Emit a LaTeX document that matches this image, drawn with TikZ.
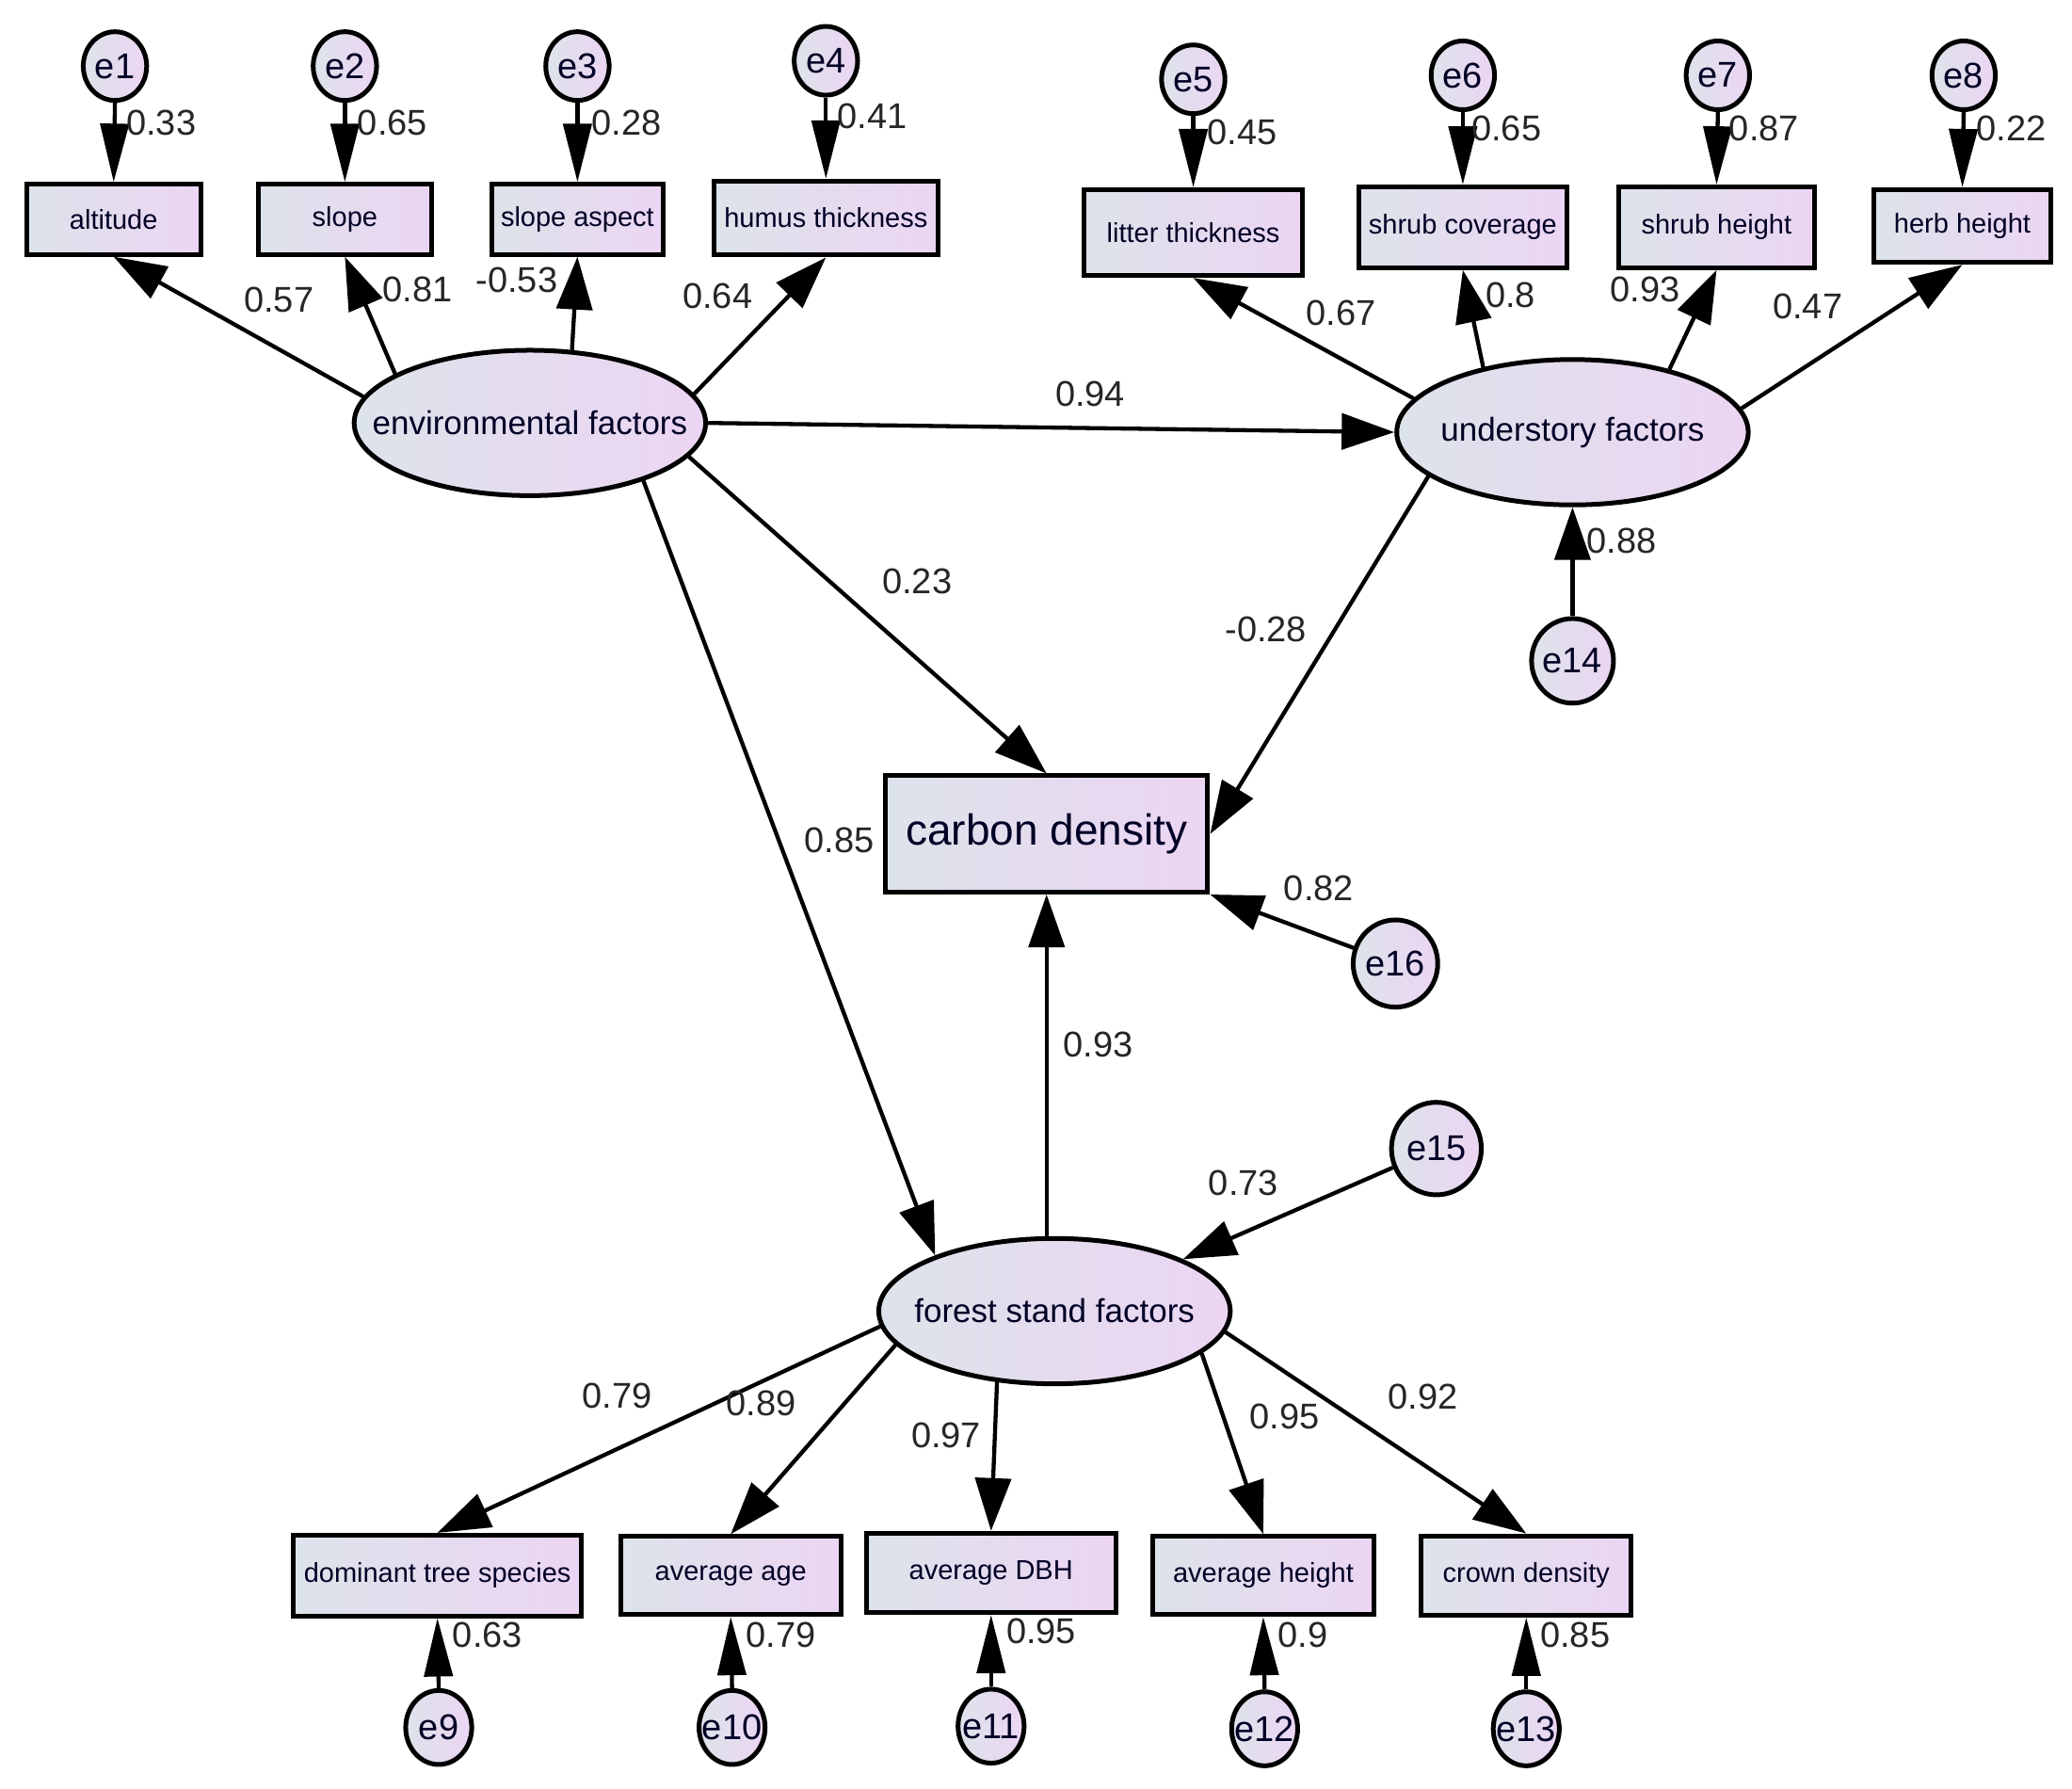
\documentclass[tikz,border=0pt]{standalone}
\usepackage{fontspec}
\setmainfont{Liberation Sans}
\usetikzlibrary{arrows.meta,shapes.geometric}
\definecolor{gl}{HTML}{DDE3EA}
\definecolor{gr}{HTML}{ECD5F3}
\def\pxs{1.4037pt}
\newcommand\zwbox[1]{\hbox to 0pt{\hss#1\hss}}
\tikzset{
 box/.style={draw=black, line width=5pt, left color=gl, right color=gr, inner sep=0pt,
   font=\fontsize{29}{31}\selectfont, text=black!85!blue},
 lat/.style={ellipse, draw=black, line width=5pt, left color=gl, right color=gr, inner sep=0pt,
   minimum width=266*\pxs, minimum height=110*\pxs, font=\fontsize{35}{37}\selectfont, text=black!85!blue},
 err/.style={ellipse, draw=black, line width=5pt, left color=gl, right color=gr, inner sep=0pt,
   font=\fontsize{38}{40}\selectfont, text=black!85!blue},
 topE/.style={err, minimum width=48*\pxs, minimum height=52*\pxs},
 botE/.style={err, minimum width=50*\pxs, minimum height=56*\pxs},
 arr/.style={line width=4.3pt, -{Triangle[length=56pt,width=38pt]}},
 earr/.style={line width=4.3pt, -{Triangle[length=62pt,width=30pt]}},
 lab/.style={font=\fontsize{38}{40}\selectfont, inner sep=0pt, text=black!85}
}
\begin{document}
\begin{tikzpicture}[x=1.4037pt, y=-1.4037pt]
\fill[white] (0,0) rectangle (1568,1353);
\useasboundingbox (0,0) rectangle (1568,1353);

% latent variables
\node[lat] (env) at (401,320) {\zwbox{environmental factors}};
\node[lat] (und) at (1190,327) {\zwbox{understory factors}};
\node[lat] (fst) at (798,992) {\zwbox{forest stand factors}};

% observed boxes top
\node[box, minimum width=132*\pxs, minimum height=53*\pxs] (alt) at (86,166) {altitude};
\node[box, minimum width=131*\pxs, minimum height=53*\pxs] (slp) at (261,166) {slope};
\node[box, minimum width=130*\pxs, minimum height=53*\pxs] (asp) at (437,166) {slope aspect};
\node[box, minimum width=170*\pxs, minimum height=56*\pxs] (hum) at (625,165) {humus thickness};
\node[box, minimum width=165*\pxs, minimum height=65*\pxs] (lit) at (903,176) {litter thickness};
\node[box, minimum width=157*\pxs, minimum height=61*\pxs] (shc) at (1107,172) {shrub coverage};
\node[box, minimum width=148*\pxs, minimum height=61*\pxs] (shh) at (1299,172) {shrub height};
\node[box, minimum width=134*\pxs, minimum height=55*\pxs] (hbh) at (1485,171) {herb height};

% carbon density
\node[box, minimum width=244*\pxs, minimum height=88*\pxs, font=\fontsize{46}{48}\selectfont] (cd) at (792,631) {carbon density};

% bottom boxes
\node[box, minimum width=218*\pxs, minimum height=61*\pxs] (dom) at (331,1192) {dominant tree species};
\node[box, minimum width=167*\pxs, minimum height=59*\pxs] (age) at (553,1192) {average age};
\node[box, minimum width=189*\pxs, minimum height=60*\pxs] (dbh) at (750,1190) {average DBH};
\node[box, minimum width=168*\pxs, minimum height=59*\pxs] (avh) at (956,1192) {average height};
\node[box, minimum width=159*\pxs, minimum height=60*\pxs] (crd) at (1155,1192) {crown density};

% error terms
\node[topE] (e1) at (87,50) {\zwbox{e1}};
\node[topE] (e2) at (261,50) {\zwbox{e2}};
\node[topE] (e3) at (437,50) {\zwbox{e3}};
\node[topE] (e4) at (625,46) {\zwbox{e4}};
\node[topE] (e5) at (903,60) {\zwbox{e5}};
\node[topE] (e6) at (1107,57) {\zwbox{e6}};
\node[topE] (e7) at (1300,57) {\zwbox{e7}};
\node[topE] (e8) at (1486,57) {\zwbox{e8}};
\node[err, minimum width=62*\pxs, minimum height=64*\pxs] (e14) at (1190,500) {\zwbox{e14}};
\node[err, minimum width=64*\pxs, minimum height=66*\pxs] (e16) at (1056,729) {\zwbox{e16}};
\node[err, minimum width=68*\pxs, minimum height=70*\pxs] (e15) at (1087,869) {\zwbox{e15}};
\node[botE] (e9) at (332,1307) {\zwbox{e9}};
\node[botE] (e10) at (554,1307) {\zwbox{e10}};
\node[botE] (e11) at (750,1306) {\zwbox{e11}};
\node[botE] (e12) at (957,1308) {\zwbox{e12}};
\node[botE] (e13) at (1155,1308) {\zwbox{e13}};

% error arrows
\draw[earr] (e1.south) -- (alt.north);
\draw[earr] (e2.south) -- (slp.north);
\draw[earr] (e3.south) -- (asp.north);
\draw[earr] (e4.south) -- (hum.north);
\draw[earr] (e5.south) -- (lit.north);
\draw[earr] (e6.south) -- (shc.north);
\draw[earr] (e7.south) -- (shh.north);
\draw[earr] (e8.south) -- (hbh.north);
\draw[earr] (e9.north) -- (dom.south);
\draw[earr] (e10.north) -- (age.south);
\draw[earr] (e11.north) -- (dbh.south);
\draw[earr] (e12.north) -- (avh.south);
\draw[earr] (e13.north) -- (crd.south);
\draw[arr] (e14.north) -- (und.south);
\draw[arr] (e16) -- (cd.south east);
\draw[arr] (e15) -- (fst.22);

% loadings
\draw[arr] (env.171) -- (alt.south);
\draw[arr] (env.160) -- (slp.south);
\draw[arr] (env.60) -- (asp.south);
\draw[arr] (env.10) -- (hum.south);
\draw[arr] (und.168) -- (lit.south);
\draw[arr] (und.144) -- (shc.south);
\draw[arr] (und.33) -- (shh.south);
\draw[arr] (und.8) -- (hbh.south);
\draw[arr] (fst.185) -- (dom.north);
\draw[arr] (fst.192) -- (age.north);
\draw[arr] (fst.231) -- (dbh.north);
\draw[arr] (fst.344) -- (avh.north);
\draw[arr] (fst.353) -- (crd.north);

% structural paths
\draw[arr] (env.east) -- (und.west);
\draw[arr] (env.348) -- (cd.north);
\draw[arr] (env.333) -- (fst.155);
\draw[arr] (und.197) -- (cd.east);
\draw[arr] (fst.north -| cd.south) -- (cd.south);

% labels
\node[lab] (l1) at (122,93) {0.33};
\node[lab] (l2) at (297,93) {0.65};
\node[lab] (l3) at (474,93) {0.28};
\node[lab] (l4) at (660,88) {0.41};
\node[lab] (l5) at (211,227) {0.57};
\node[lab] (l6) at (316,219) {0.81};
\node[lab] (l7) at (391,212) {-0.53};
\node[lab] (l8) at (543,224) {0.64};
\node[lab] (l9) at (940,100) {0.45};
\node[lab] (l10) at (1140,97) {0.65};
\node[lab] (l11) at (1335,97) {0.87};
\node[lab] (l12) at (1522,97) {0.22};
\node[lab] (l13) at (1015,237) {0.67};
\node[lab] (l14) at (1143,223) {0.8};
\node[lab] (l15) at (1245,219) {0.93};
\node[lab] (l16) at (1368,232) {0.47};
\node[lab] (l17) at (825,298) {0.94};
\node[lab] (l18) at (694,440) {0.23};
\node[lab] (l19) at (958,476) {-0.28};
\node[lab] (l20) at (1227,409) {0.88};
\node[lab] (l21) at (635,636) {0.85};
\node[lab] (l22) at (998,672) {0.82};
\node[lab] (l23) at (831,790) {0.93};
\node[lab] (l24) at (941,895) {0.73};
\node[lab] (l25) at (467,1056) {0.79};
\node[lab] (l26) at (576,1062) {0.89};
\node[lab] (l27) at (716,1086) {0.97};
\node[lab] (l28) at (972,1072) {0.95};
\node[lab] (l29) at (1077,1057) {0.92};
\node[lab] (l30) at (369,1237) {0.63};
\node[lab] (l31) at (591,1237) {0.79};
\node[lab] (l32) at (788,1234) {0.95};
\node[lab] (l33) at (986,1237) {0.9};
\node[lab] (l34) at (1192,1237) {0.85};
\end{tikzpicture}
\end{document}
